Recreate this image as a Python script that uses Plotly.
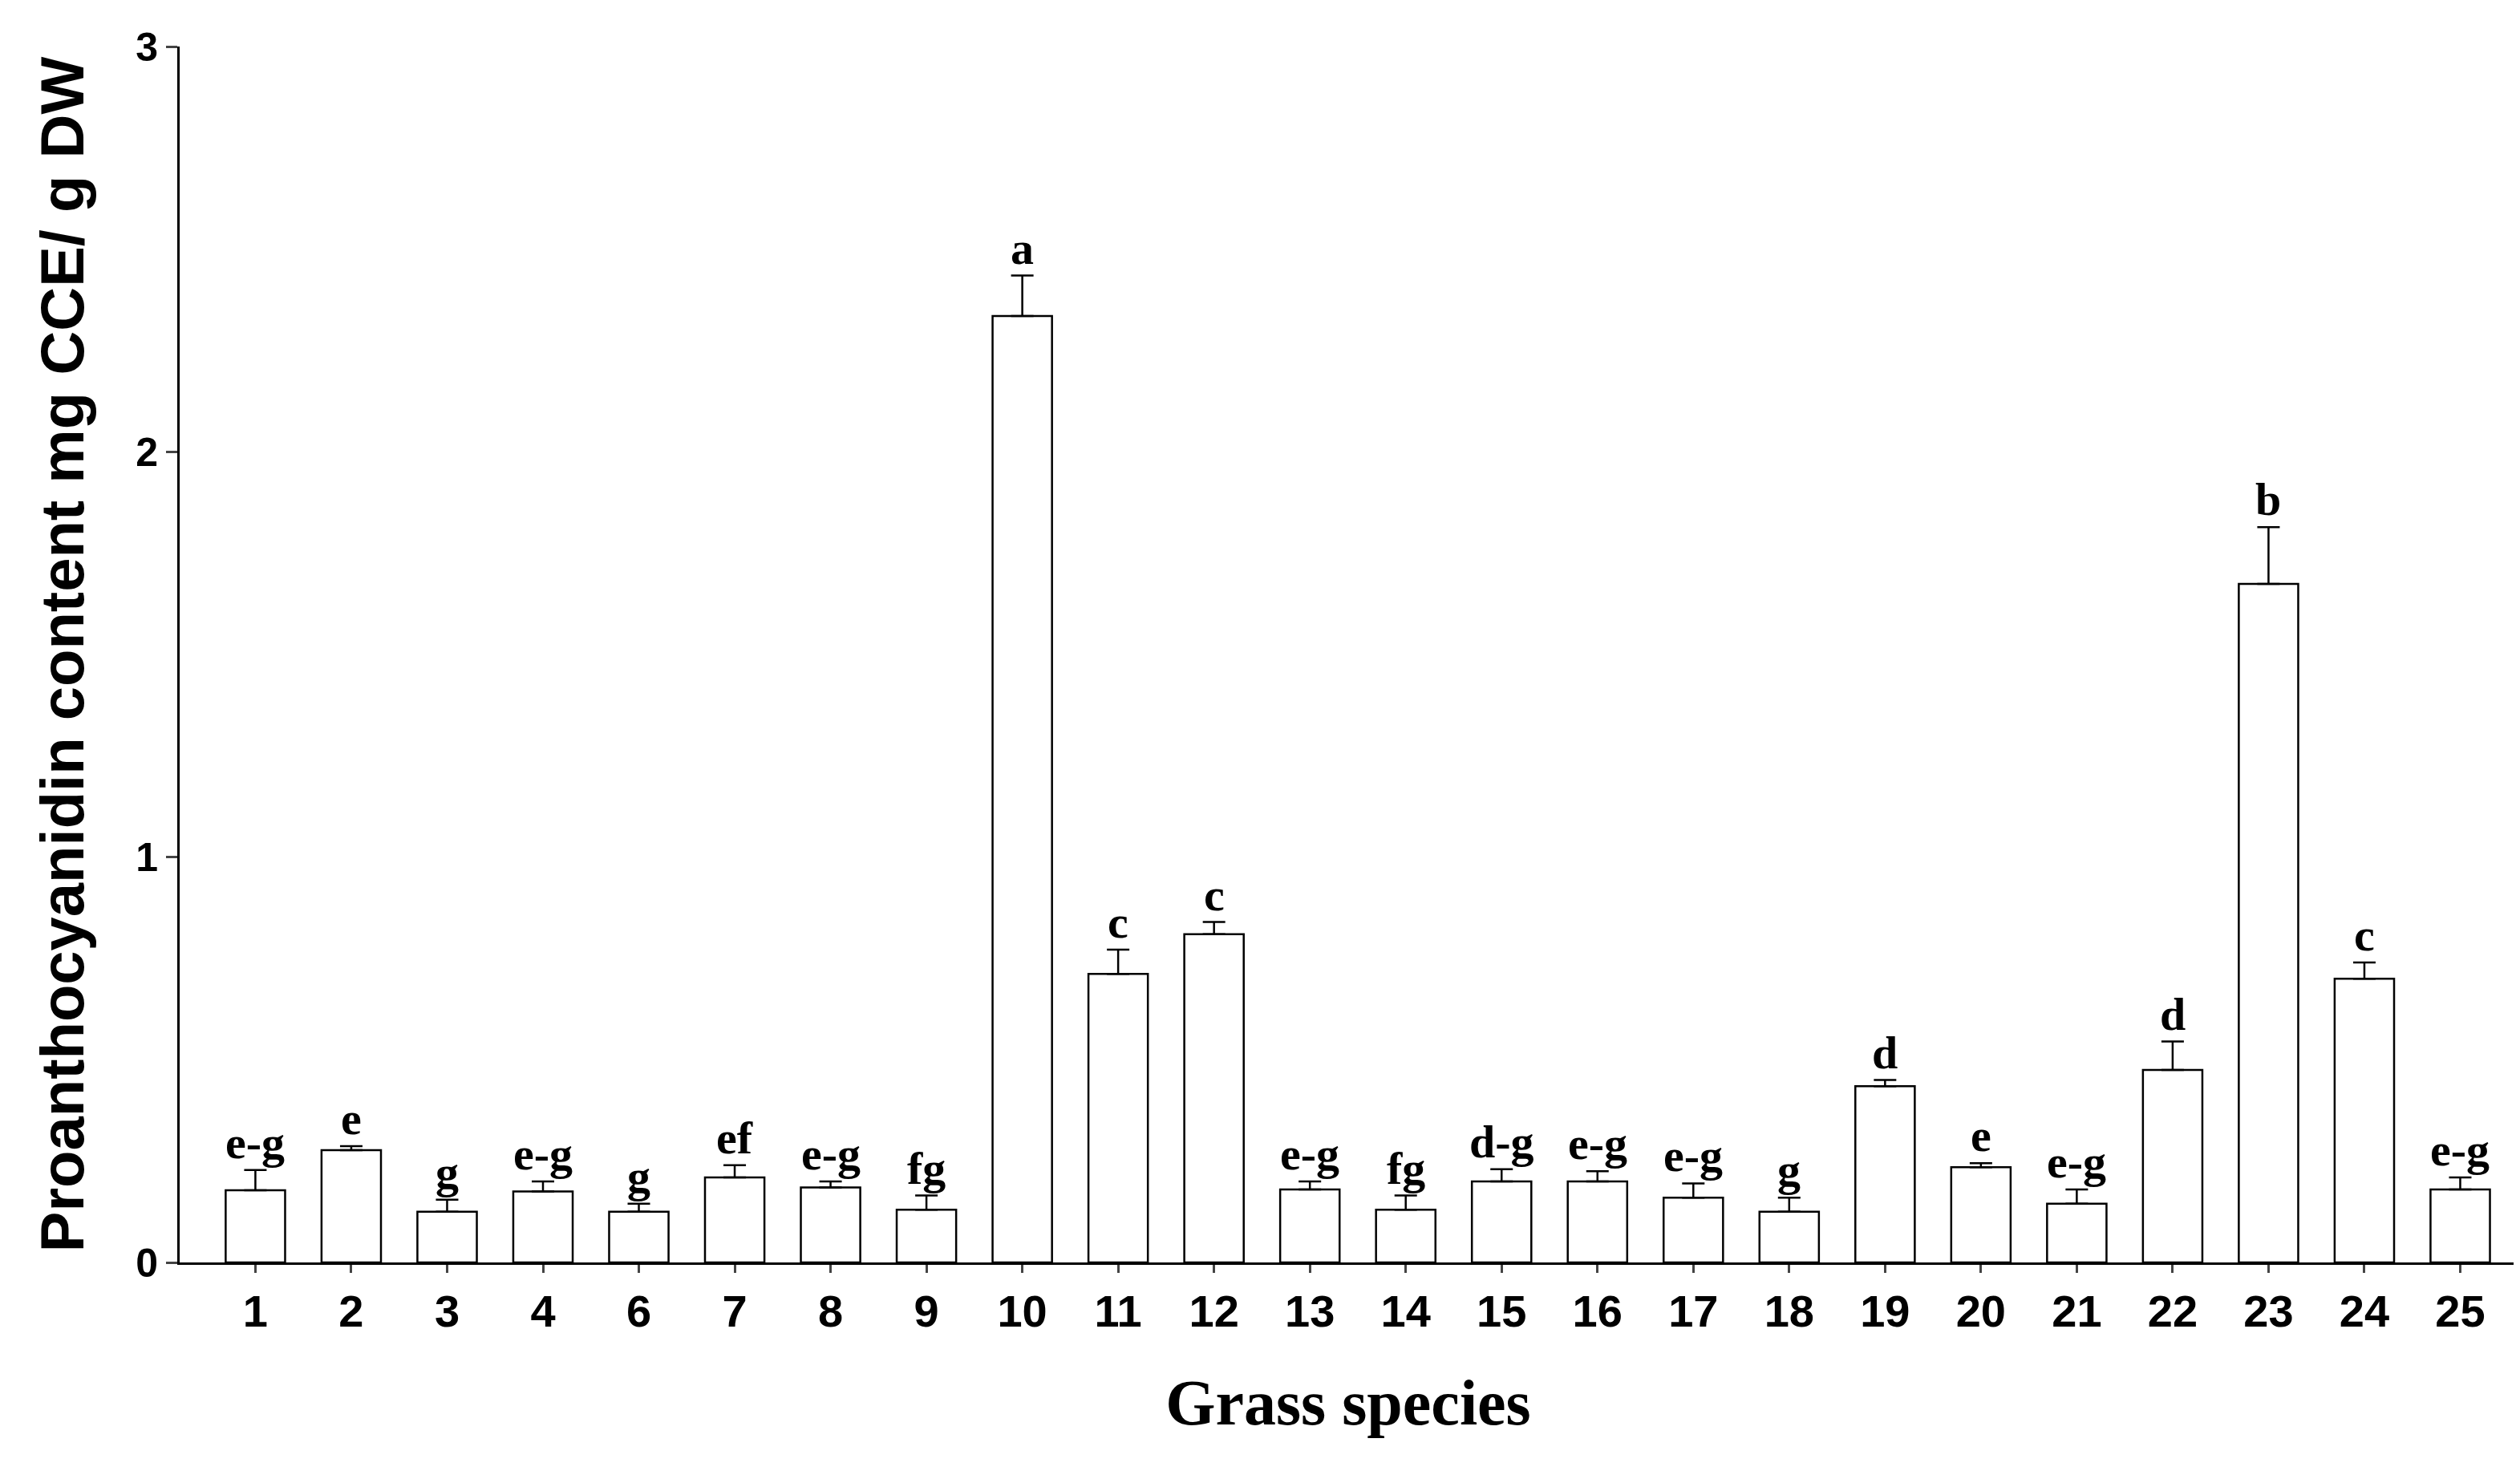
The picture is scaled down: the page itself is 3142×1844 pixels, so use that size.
import plotly.graph_objects as go

species = ['1', '2', '3', '4', '6', '7', '8', '9', '10', '11', '12', '13', '14',
           '15', '16', '17', '18', '19', '20', '21', '22', '23', '24', '25']
values = [0.178, 0.277, 0.125, 0.175, 0.125, 0.21, 0.185, 0.13, 2.335, 0.712, 0.81,
          0.18, 0.13, 0.2, 0.2, 0.16, 0.125, 0.435, 0.235, 0.145, 0.475, 1.674, 0.70, 0.18]
errors = [0.05, 0.01, 0.03, 0.025, 0.02, 0.03, 0.015, 0.035, 0.1, 0.06, 0.03,
          0.02, 0.035, 0.03, 0.025, 0.035, 0.035, 0.015, 0.01, 0.035, 0.07, 0.14, 0.04, 0.03]
letters = ['e-g', 'e', 'g', 'e-g', 'g', 'ef', 'e-g', 'fg', 'a', 'c', 'c', 'e-g', 'fg',
           'd-g', 'e-g', 'e-g', 'g', 'd', 'e', 'e-g', 'd', 'b', 'c', 'e-g']

xs = list(range(len(species)))

fig = go.Figure(go.Bar(
    x=xs, y=values, width=0.62,
    marker=dict(color='white', line=dict(color='black', width=2.5)),
    error_y=dict(type='data', array=errors, arrayminus=[0] * len(errors),
                 color='black', thickness=2.5, width=14),
))

for x, v, e, t in zip(xs, values, errors, letters):
    fig.add_annotation(x=x, y=v + e, text='<b>%s</b>' % t, showarrow=False,
                       yanchor='bottom', yshift=0,
                       font=dict(family='Liberation Serif', size=58, color='black'))

fig.update_layout(
    width=3142, height=1844, plot_bgcolor='white', paper_bgcolor='white',
    margin=dict(l=216, r=12, t=50, b=278), showlegend=False,
    xaxis=dict(range=[-0.79, 23.59], tickvals=xs, ticktext=species,
               showline=True, linecolor='black', linewidth=3, ticks='outside',
               ticklen=10, tickwidth=3, showgrid=False, zeroline=False,
               tickfont=dict(family='Liberation Sans', size=56, color='black', weight='bold'),
               title=dict(text='<b>Grass species</b>', standoff=55,
                          font=dict(family='Liberation Serif', size=80, color='black'))),
    yaxis=dict(range=[0, 3], tickvals=[0, 1, 2, 3], showline=True, linecolor='black',
               linewidth=3, ticks='outside', ticklen=14, tickwidth=3, showgrid=False,
               zeroline=False,
               tickfont=dict(family='Liberation Sans', size=50, color='black', weight='bold'),
               title=dict(text='<b>Proanthocyanidin content mg CCE/ g DW</b>', standoff=40,
                          font=dict(family='Liberation Sans', size=76, color='black'))),
)

fig.write_html("out.html")
